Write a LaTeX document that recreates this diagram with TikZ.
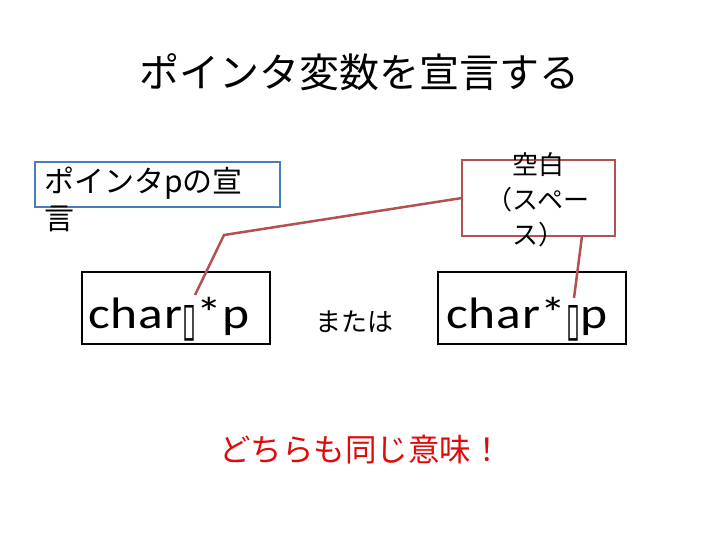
\documentclass[tikz,border=0pt]{standalone}
\usepackage{fontspec}
\usepackage{graphicx}
\setmainfont{Carlito}
\newfontfamily\codefont[FakeStretch=1.17,LetterSpace=2]{Carlito}
\newfontfamily\jp{Noto Sans CJK JP}
\newfontfamily\sym{DejaVu Sans}
\definecolor{boxblue}{RGB}{74,126,187}
\definecolor{boxred}{RGB}{180,80,80}
\definecolor{txtred}{RGB}{225,10,10}
\newcommand{\tofu}{\raisebox{-7pt}{\resizebox{14pt}{30pt}{\sym ▯}}}
\begin{document}
\begin{tikzpicture}[x=1pt,y=-1pt,
  every node/.style={inner sep=0pt,outer sep=0pt},
  codebox/.style={draw=black,line width=2pt,minimum width=188pt,minimum height=72pt},
  codetext/.style={font=\codefont\fontsize{44}{50}\selectfont,anchor=base west},
  conn/.style={draw=boxred,line width=2.5pt}]
\useasboundingbox (0,0) rectangle (720,540);
\node[font=\jp\fontsize{40}{48}\selectfont] (title) at (359,72) {ポインタ変数を宣言する};
% blue box
\node[draw=boxblue,line width=2pt,minimum width=245pt,minimum height=45pt] (bluebox) at (157.5,184.5) {};
\node[font=\jp\fontsize{30}{37}\selectfont,anchor=north west,align=left] (bluetext) at (44,167) {ポインタpの宣\\言};
% code boxes
\node[codebox] (left) at (176,308) {};
\node[codetext] (lefttext) at (88,328) {char\tofu*p};
\node[codebox] (right) at (532,308) {};
\node[codetext] (righttext) at (446,328) {char*\tofu p};
\node[font=\jp\fontsize{26}{30}\selectfont] (or) at (354,322) {または};
% red box
\node[draw=boxred,line width=2.5pt,minimum width=153pt,minimum height=76pt] (redbox) at (538.5,198) {};
\node[font=\jp\fontsize{26}{35}\selectfont,align=center] (redtext) at (538,200) {空白\\（スペー\\ス）};
% connectors
\coordinate (lstart) at (195,295);
\coordinate (lbend) at (224,235);
\coordinate (rstart) at (574,298);
\draw[conn] (lstart) -- (lbend) -- (redbox.west);
\draw[conn] (rstart) -- (redbox.south -| 582,0);
% bottom text
\node[font=\jp\fontsize{31.5}{36}\selectfont,text=txtred] (same) at (361,450) {どちらも同じ意味！};
\end{tikzpicture}
\end{document}
